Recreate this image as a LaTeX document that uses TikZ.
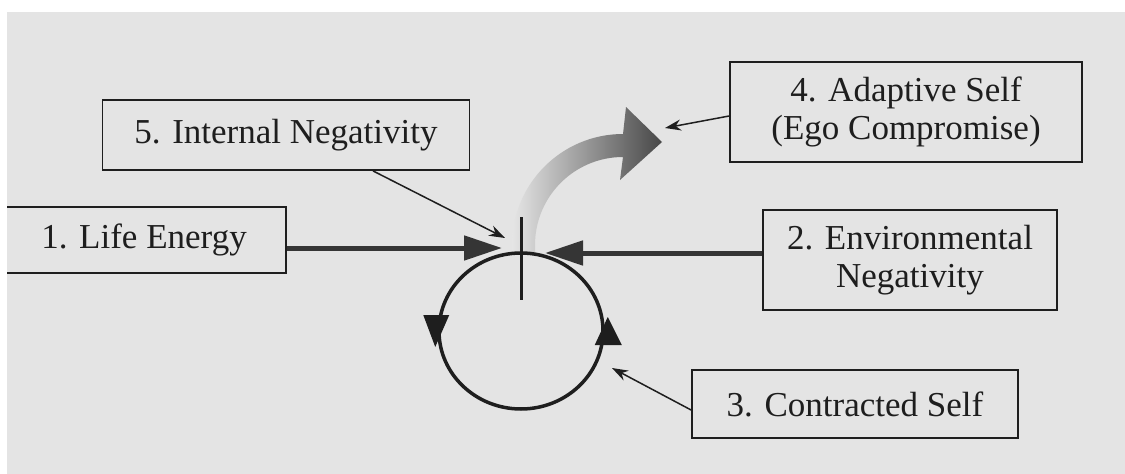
\documentclass[tikz,border=0pt]{standalone}
\usepackage{fontspec}
\setmainfont{Liberation Serif}
\usetikzlibrary{arrows.meta,shapes.geometric,calc}
\definecolor{bg}{RGB}{228,228,228}
\definecolor{ink}{RGB}{30,30,30}
\tikzset{
  box/.style={draw=ink, line width=1.8pt, text=ink, align=center, inner sep=0pt,
    font=\fontsize{35}{38}\selectfont},
  thin/.style={draw=ink, line width=1.5pt, -{Stealth[length=16pt,width=11pt]}},
  thick/.style={draw=ink!90, line width=5pt, -{Triangle[length=38pt,width=24pt]}},
  loop/.style={draw=ink, line width=3.5pt},
}
\begin{document}
\begin{tikzpicture}[x=1pt,y=-1pt]
\useasboundingbox (0,0) rectangle (1125,474);
\fill[bg] (7,12) rectangle (1125,474);
\clip (7,12) rectangle (1125,474);
% boxes
\node[box, minimum width=316pt, minimum height=66pt] (b1) at (128,240) {\hspace*{32pt}1. Life Energy};
\node[box, minimum width=367pt, minimum height=70pt] (b5) at (286,135) {5. Internal Negativity};
\node[box, minimum width=352pt, minimum height=100pt] (b4) at (906,112) {4. Adaptive Self\\(Ego Compromise)};
\node[box, minimum width=294pt, minimum height=100pt] (b2) at (910,260) {2. Environmental\\Negativity};
\node[box, minimum width=326pt, minimum height=68pt] (b3) at (855,404) {3. Contracted Self};
% curved shaded arrow
\shade[left color=gray!20, right color=black!72]
  (512,252) -- (512,245) arc[start angle=180, end angle=270, radius=111]
  -- (626,107) -- (662,142) -- (620,180) -- (623,157)
  arc[start angle=270, end angle=180, radius=88] -- (535,252) -- cycle;
% cycle
\node[ellipse, loop, minimum width=164pt, minimum height=156pt, inner sep=0pt] (cyc) at (521,331) {};
\fill[ink] ($(cyc.west)+(-14,-16)$) -- ($(cyc.west)+(12,-16)$) -- ($(cyc.west)+(-2,16)$) -- cycle;
\fill[ink] ($(cyc.east)+(-10,14)$) -- ($(cyc.east)+(17,14)$) -- ($(cyc.east)+(3,-14)$) -- cycle;
% vertical bar
\coordinate (vt) at (521,217);
\coordinate (vb) at (521,300);
\draw[ink, line width=3pt] (vt) -- (vb);
% arrow tips
\coordinate (lifetip) at (502,248);
\coordinate (envtip) at (545,253);
\coordinate (inttip) at (505,238);
\coordinate (adtip) at (665,128);
\coordinate (contip) at (612,368);
\draw[thick] (b1.east |- lifetip) -- (lifetip);
\draw[thick] (b2.west |- envtip) -- (envtip);
\draw[thin] ([xshift=87pt]b5.south) -- (inttip);
\draw[thin] ([yshift=-4pt]b4.west) -- (adtip);
\draw[thin] ([yshift=-6pt]b3.west) -- (contip);
\end{tikzpicture}
\end{document}
